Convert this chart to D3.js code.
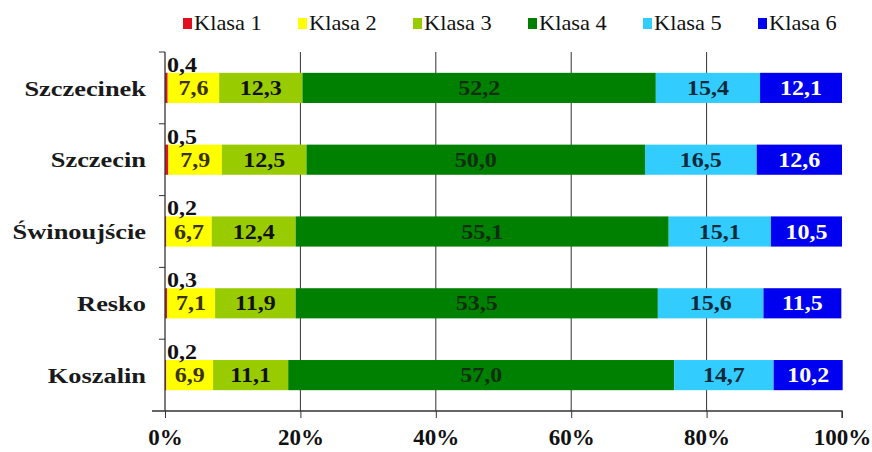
<!DOCTYPE html>
<html><head><meta charset="utf-8">
<script src="https://cdn.jsdelivr.net/npm/d3@7"></script>
<style>body{margin:0;background:#fff}svg{display:block}</style>
</head><body>
<script>
const categories = ["Szczecinek","Szczecin","Świnoujście","Resko","Koszalin"];
const seriesNames = ["Klasa 1","Klasa 2","Klasa 3","Klasa 4","Klasa 5","Klasa 6"];
const klasa1 = [0.4,0.5,0.2,0.3,0.2];
const klasa2 = [7.6,7.9,6.7,7.1,6.9];
const klasa3 = [12.3,12.5,12.4,11.9,11.1];
const klasa4 = [52.2,50.0,55.1,53.5,57.0];
const klasa5 = [15.4,16.5,15.1,15.6,14.7];
const klasa6 = [12.1,12.6,10.5,11.5,10.2];
const xTicks = [0,20,40,60,80,100];

const seriesValues = [klasa1,klasa2,klasa3,klasa4,klasa5,klasa6];
const colors = ["#e01020","#ffff00","#99cc00","#008000","#33ccff","#0000f0"];
const labelColors = ["#111","#3a3200","#111","#122e12","#0d2a3a","#ffffff"];

const W=872,H=452;
const svg=d3.select("body").append("svg").attr("width",W).attr("height",H);
const serif='"Liberation Serif","Times New Roman",serif';
const x=d3.scaleLinear().domain([0,100]).range([165,842]);
const y=d3.scaleBand().domain(categories).range([52,411]).paddingInner(0.58).paddingOuter(0.29);

const rows=categories.map((c,i)=>{const r={cat:c};seriesNames.forEach((s,j)=>r[s]=seriesValues[j][i]);return r;});
const stacked=d3.stack().keys(seriesNames)(rows);

// gridlines
svg.append("g").selectAll("line").data(xTicks.slice(1,-1)).join("line")
 .attr("x1",d=>x(d)).attr("x2",d=>x(d)).attr("y1",52).attr("y2",411)
 .attr("stroke","#333").attr("stroke-width",1);

// bars
svg.append("g").selectAll("g").data(stacked).join("g").attr("fill",(d,i)=>colors[i])
 .selectAll("rect").data(d=>d).join("rect")
 .attr("x",d=>x(d[0])).attr("width",d=>x(d[1])-x(d[0]))
 .attr("y",d=>y(d.data.cat)).attr("height",y.bandwidth());

// x axis
const xa=svg.append("g").attr("transform","translate(0,411)")
 .call(d3.axisBottom(x).tickValues(xTicks).tickFormat(d=>d+"%").tickSize(7).tickPadding(11));
xa.select(".domain").attr("stroke","#333").attr("stroke-width",1.3).attr("d","M152,0H842V7");
xa.selectAll(".tick line").attr("stroke","#333");
xa.selectAll("text").attr("font-family",serif).attr("font-weight","bold").attr("font-size",23).attr("fill","#111");

// y axis
const bounds=[52].concat(categories.map((c,i)=>y(c)+y.bandwidth()/2+y.step()/2));
svg.append("line").attr("x1",165).attr("x2",165).attr("y1",52).attr("y2",411).attr("stroke","#333").attr("stroke-width",1.3);
svg.append("g").selectAll("line").data(bounds.slice(0,-1)).join("line")
 .attr("x1",159).attr("x2",165).attr("y1",d=>d).attr("y2",d=>d).attr("stroke","#333");
svg.append("g").selectAll("text").data(categories).join("text")
 .attr("transform",d=>`translate(146,${y(d)+y.bandwidth()/2}) scale(1.2,1)`)
 .attr("dy","0.35em").attr("text-anchor","end")
 .attr("font-family",serif).attr("font-weight","bold").attr("font-size",22).attr("fill","#1a1a1a").text(d=>d);

// labels
const fmt=v=>v.toFixed(1).replace(".",",");
stacked.forEach((s,i)=>{
  svg.append("g").selectAll("text").data(s).join("text")
   .attr("transform",d=>{
     const tx=i===0?x(0)+2:(x(d[0])+x(d[1]))/2;
     const ty=i===0?y(d.data.cat)-1:y(d.data.cat)+y.bandwidth()/2;
     return `translate(${tx},${ty}) scale(1.2,1)`;})
   .attr("dy",i===0?"0":"0.35em")
   .attr("text-anchor",i===0?"start":"middle")
   .attr("font-family",serif).attr("font-weight","bold").attr("font-size",20)
   .attr("fill",labelColors[i]).text(d=>fmt(d[1]-d[0]));
});

// legend
const lg=svg.append("g").attr("transform","translate(183,0)");
const items=lg.selectAll("g").data(seriesNames).join("g").attr("transform",(d,i)=>`translate(${i*115},0)`);
items.append("rect").attr("x",0).attr("y",18).attr("width",9).attr("height",11).attr("fill",(d,i)=>colors[i]);
items.append("text").attr("transform","translate(11,30) scale(1.12,1)").attr("font-family",serif).attr("font-size",20).attr("fill","#111").text(d=>d);
</script>
</body></html>
